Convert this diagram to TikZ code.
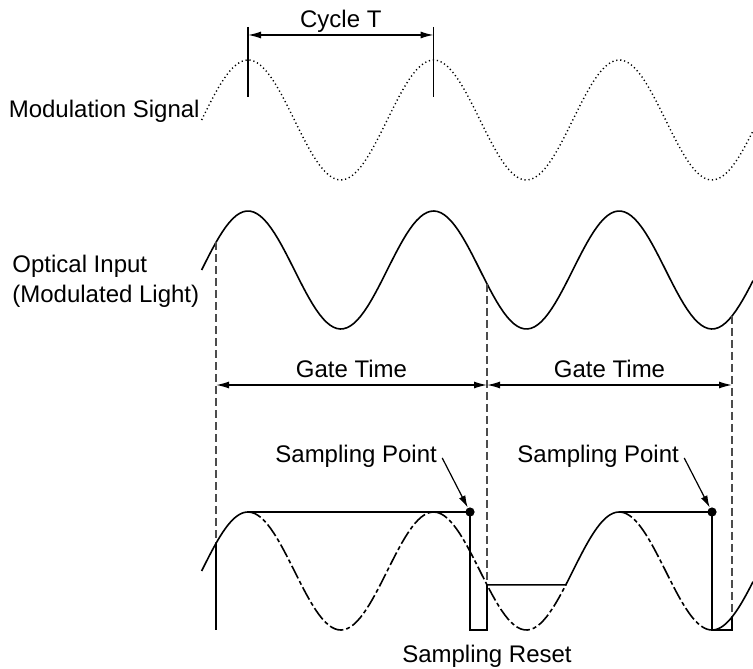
\documentclass[tikz,border=0pt]{standalone}
\usepackage{fontspec}
\setmainfont{Liberation Sans}
\usetikzlibrary{arrows.meta}

\begin{document}
\begin{tikzpicture}[x=0.5pt, y=-0.5pt, >={Latex[length=6.5pt, width=3.5pt]}, font=\fontsize{12}{14}\selectfont]
% --- Global Styles ---
\tikzstyle{curve} = [line width=0.8pt]
\tikzstyle{modcurve} = [line width=0.7pt, dash pattern=on 0.6pt off 1.4pt]
\tikzstyle{ghost} = [line width=0.8pt, dash pattern=on 7pt off 1.5pt on 2pt off 1.5pt]
\tikzstyle{gateline} = [line width=0.8pt, dash pattern=on 4pt off 2pt, black!70]
\tikzstyle{tickline} = [line width=0.8pt]
\tikzstyle{dimarrow} = [<->, line width=0.7pt]
\tikzstyle{ptarrow} = [-{Latex[length=6pt, width=3.5pt]}, line width=0.6pt]
\tikzstyle{txt} = [inner sep=0pt]
\tikzstyle{spdot} = [circle, fill, inner sep=0pt, minimum size=4.6pt]

\useasboundingbox (0,0) rectangle (753,668);

% --- Wave Parameters ---
\def\xzero{201.6}  % rising zero crossing
\def\tper{185.6}   % period
\def\wamp{59}      % amplitude
\def\ymod{120}     % modulation signal centre
\def\yopt{270}     % optical input centre
\def\yout{571}     % sampled output centre

% ==========================================
% TOP: Modulation Signal
% ==========================================
\draw[modcurve] plot[domain=\xzero:753, samples=160] (\x, {\ymod - 60*sin((\x-\xzero)/\tper*360)});
\node[txt, anchor=base east] (modlbl) at (200,118) {Modulation Signal};

% Cycle marks
\coordinate (cyc1) at (248,35);
\coordinate (cyc2) at (433.6,35);
\draw[tickline] (248,27) -- (248,97);
\draw[tickline] (433.6,27) -- (433.6,97);
\draw[dimarrow] (cyc1) -- (cyc2);
\node[txt, anchor=base] (cyclbl) at (340.8,28) {Cycle T};

% ==========================================
% MIDDLE: Optical Input
% ==========================================
\draw[curve] plot[domain=\xzero:753, samples=160] (\x, {\yopt - \wamp*sin((\x-\xzero)/\tper*360)});
\node[txt, anchor=base west] (optlbl) at (12,272) {Optical Input};
\node[txt, anchor=base west] (optlbl2) at ([yshift=-15pt]optlbl.base west) {(Modulated Light)};

% Gate boundaries on the optical curve
\coordinate (g1top) at (216, {\yopt - \wamp*sin((216-\xzero)/\tper*360)});
\coordinate (g2top) at (487, {\yopt - \wamp*sin((487-\xzero)/\tper*360)});
\coordinate (g3top) at (732, {\yopt - \wamp*sin((732-\xzero)/\tper*360)});
\coordinate (g1bot) at (216, {\yout - \wamp*sin((216-\xzero)/\tper*360)});
\coordinate (g2bot) at (487, {\yout - \wamp*sin((487-\xzero)/\tper*360)});
\coordinate (g2rise) at (565.8, {\yout - \wamp*sin((487-\xzero)/\tper*360)});
\coordinate (g3bot) at (732, {\yout - \wamp*sin((732-\xzero)/\tper*360)});

\draw[gateline] (g1top) -- (g1bot);
\draw[gateline] (g2top) -- (g2bot);
\draw[gateline] (g3top) -- (732,630);

% Gate time arrows
\coordinate (ga1) at (216,385);
\coordinate (ga2) at (487,385);
\coordinate (ga3) at (732,385);
\draw[dimarrow] (ga1) -- (ga2);
\draw[dimarrow] (ga2) -- (ga3);
\node[txt, anchor=base] (gatelbl1) at (351.5,377) {Gate Time};
\node[txt, anchor=base] (gatelbl2) at (609.5,377) {Gate Time};

% ==========================================
% BOTTOM: Sampled Output
% ==========================================
\node[spdot] (sp1) at (470,512) {};
\node[spdot] (sp2) at (712,512) {};

% Underlying input (dash-dot)
\draw[ghost] plot[domain=248:565.8, samples=100] (\x, {\yout - \wamp*sin((\x-\xzero)/\tper*360)});
\draw[ghost] plot[domain=619.2:712, samples=40] (\x, {\yout - \wamp*sin((\x-\xzero)/\tper*360)});

% Held output
\draw[curve] plot[domain=\xzero:248, samples=30] (\x, {\yout - \wamp*sin((\x-\xzero)/\tper*360)})
  -- (sp1.center) -- (470,630) -- (487,630) -- (g2bot) -- (g2rise)
  -- plot[domain=565.8:619.2, samples=30] (\x, {\yout - \wamp*sin((\x-\xzero)/\tper*360)})
  -- (sp2.center) -- (712,630) -- (732,630) -- (g3bot);
\draw[curve] plot[domain=712:753, samples=30] (\x, {\yout - \wamp*sin((\x-\xzero)/\tper*360)});
\draw[curve] (g1bot) -- (216,630);

% Labels
\node[txt, anchor=base west] (splbl1) at (275,462) {Sampling Point};
\node[txt, anchor=base west] (splbl2) at (517,462) {Sampling Point};
\draw[ptarrow] ([xshift=2.5pt, yshift=2pt]splbl1.base east) -- (sp1);
\draw[ptarrow] ([xshift=2.5pt, yshift=2pt]splbl2.base east) -- (sp2);
\node[txt, anchor=base] (rstlbl) at (487,662) {Sampling Reset};

\end{tikzpicture}
\end{document}
